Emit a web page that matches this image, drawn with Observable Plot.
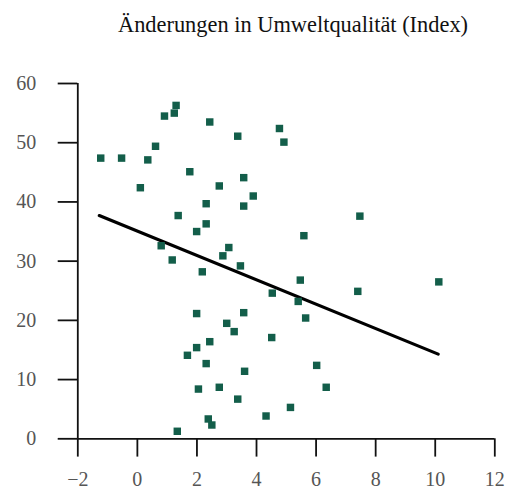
<!DOCTYPE html>
<html>
<head>
<meta charset="utf-8">
<script src="https://cdn.jsdelivr.net/npm/d3@7"></script>
<script src="https://cdn.jsdelivr.net/npm/@observablehq/plot@0.6"></script>
<style>
  body { margin: 0; background: #fff; }
  #title { font-family: "Liberation Serif", serif; font-size: 22.4px; line-height: 26px;
           height: 30px; padding-top: 12px; padding-left: 80px; text-align: center; color: #111; width: 426px; }
  #chart svg text { font-family: "Liberation Serif", serif !important; }
</style>
</head>
<body>
<div id="title">Änderungen in Umweltqualität (Index)</div>
<div id="chart"></div>
<script>
const xVals = [-1.23, -0.53, 0.35, 0.61, 0.91, 1.24, 1.30, 2.43, 3.37, 0.10, 1.76, 2.75, 3.57, 3.89, 2.31, 3.57, 1.37, 2.31, 1.99, 0.80, 3.07, 2.87, 1.17, 4.77, 4.92, 7.47, 5.59, 3.46, 5.47, 4.53, 10.12, 7.40, 5.40, 3.57, 5.65, 4.51, 3.60, 6.02, 6.34, 3.37, 5.14, 4.32, 2.18, 1.99, 3.00, 3.25, 2.43, 1.99, 1.68, 2.31, 2.05, 2.75, 2.38, 2.50, 1.34];
const yVals = [47.4, 47.4, 47.1, 49.4, 54.5, 55.0, 56.3, 53.5, 51.1, 42.4, 45.1, 42.7, 44.1, 41.0, 39.7, 39.3, 37.7, 36.3, 35.0, 32.6, 32.3, 30.9, 30.2, 52.4, 50.1, 37.6, 34.3, 29.2, 26.8, 24.6, 26.5, 24.9, 23.2, 21.3, 20.4, 17.1, 11.4, 12.4, 8.7, 6.7, 5.3, 3.85, 28.2, 21.15, 19.5, 18.1, 16.4, 15.4, 14.1, 12.7, 8.4, 8.7, 3.35, 2.33, 1.27];
const lineX = [-1.28, 10.1];
const lineY = [37.7, 14.3];
const xTicks = [-2, 0, 2, 4, 6, 8, 10, 12];
const yTicks = [0, 10, 20, 30, 40, 50, 60];

const points = xVals.map((x, i) => ({x, y: yVals[i]}));
const fit = lineX.map((x, i) => ({x, y: lineY[i]}));

const chart = Plot.plot({
  width: 506,
  height: 447,
  marginTop: 41,
  marginBottom: 50.7,
  marginLeft: 77.3,
  marginRight: 11.7,
  style: {fontFamily: "'Liberation Serif', serif", fontSize: "20px", background: "white"},
  x: {domain: [-2, 12]},
  y: {domain: [0, 60]},
  marks: [
    Plot.axisY({ticks: yTicks, tickSize: 19.6, tickPadding: 22, stroke: "#111", strokeWidth: 1.8, fill: "#555", fontFamily: "'Liberation Serif', serif", fontSize: 20, label: null}),
    Plot.axisX({ticks: xTicks, tickSize: 18.3, tickPadding: 14.4, stroke: "#111", strokeWidth: 1.8, fill: "#555", fontFamily: "'Liberation Serif', serif", fontSize: 20, label: null}),
    Plot.ruleX([-2], {y1: 0, y2: 60, stroke: "#111", strokeWidth: 1.8}),
    Plot.ruleY([0], {x1: -2, x2: 12, stroke: "#111", strokeWidth: 1.8}),
    Plot.line(fit, {x: "x", y: "y", stroke: "#000", strokeWidth: 3.2}),
    Plot.dot(points, {x: "x", y: "y", symbol: "square", r: 4.2, fill: "#135e4a", stroke: "none"})
  ]
});
document.getElementById("chart").appendChild(chart);
</script>
</body>
</html>
